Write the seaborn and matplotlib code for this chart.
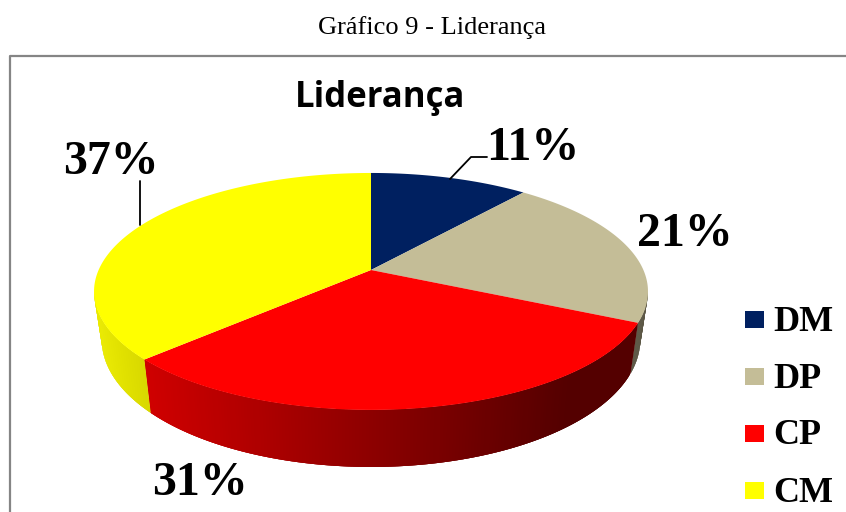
import numpy as np
import matplotlib
matplotlib.use("Agg")
import matplotlib.pyplot as plt
import seaborn as sns
from matplotlib.patches import Rectangle

categories = ["DM", "DP", "CP", "CM"]
values = [11, 21, 31, 37]
colors = ["#002060", "#C4BD97", "#FF0000", "#FFFF00"]
percent_labels = ["11%", "21%", "31%", "37%"]

sns.set_theme(style="white")

fig = plt.figure(figsize=(8.46, 5.12), dpi=100)
ax = fig.add_axes([0, 0, 1, 1])
ax.set_xlim(0, 846)
ax.set_ylim(512, 0)
ax.axis("off")


# perspective view of the pie disc, t is the share of the pie from 12 o'clock
def rim(t, drop=0.0):
    a = 2 * np.pi * np.asarray(t)
    u = np.sin(a)
    v = np.cos(a)
    d = 1 + 0.181 * v
    scale = 1 - 0.028 * (drop > 0)
    x = 371 + 272.4 * u / d * scale
    y = 270 - 114.6 * v / d + drop / d
    return x, y


shares = np.array(values) / sum(values)
edges = np.concatenate([[0], np.cumsum(shares)])

# side wall first, only the front part shows
for i in range(len(values)):
    t_start = max(edges[i], 0.279)
    t_end = min(edges[i + 1], 0.721)
    if t_start >= t_end:
        continue
    ts = np.linspace(t_start, t_end, int(values[i] * 6) + 2)
    step = ts[1] - ts[0]
    for t0 in ts[:-1]:
        # each piece runs under the next one so no seams show
        t1 = min(t0 + 3 * step, t_end)
        tt = np.linspace(t0, t1, 5)
        x_top, y_top = rim(tt)
        x_low, y_low = rim(tt, 46.7)
        if categories[i] == "CP":
            # red goes dark towards the right
            f = np.clip((x_top[0] - 140) / 430, 0, 1)
            c = np.array([0.82, 0, 0]) * (1 - f) + np.array([0.33, 0, 0]) * f
        elif categories[i] == "CM":
            f = np.clip((x_top[0] - 95) / 55, 0, 1)
            c = np.array([0.92, 0.92, 0]) * (1 - f) + np.array([0.84, 0.84, 0]) * f
        else:
            c = np.array([0.36, 0.34, 0.27])
        ax.fill(np.r_[x_top, x_low[::-1]], np.r_[y_top, y_low[::-1]], color=c, lw=0)

# top of the pie
for i in range(len(values)):
    ts = np.linspace(edges[i], edges[i + 1], 120)
    x, y = rim(ts)
    ax.fill(np.r_[371, x], np.r_[270, y], color=colors[i], lw=0)

# outer frame
ax.plot([10, 10, 846], [512, 56, 56], color="#858585", lw=1.6)

ax.text(432, 28, "Gráfico 9 - Liderança", family="Liberation Serif", fontsize=19,
        color="black", ha="center", va="center")
ax.text(380, 98, "Liderança", family="Open Sans", fontweight="bold", fontsize=25,
        color="black", ha="center", va="center")

# percent labels and leader lines
label_pos = [(533, 148), (685, 234), (200, 483), (111, 162)]
for txt, (lx, ly) in zip(percent_labels, label_pos):
    ax.text(lx, ly, txt, family="Liberation Serif", fontweight="bold", fontsize=34.5,
            color="black", ha="center", va="center")
ax.plot([450, 471, 487], [179, 157, 157], color="black", lw=1.3)
ax.plot([140, 140], [225, 181], color="black", lw=1.3)

# legend
legend_y = [319.5, 376.5, 433, 490]
for name, c, ly in zip(categories, colors, legend_y):
    ax.add_patch(Rectangle((745, ly - 8.5), 19, 17, color=c, lw=0))
    ax.text(773, ly + 3, name, family="Liberation Serif", fontweight="bold", fontsize=26,
            color="black", ha="left", va="center")

fig.savefig("out.png", dpi=100)
